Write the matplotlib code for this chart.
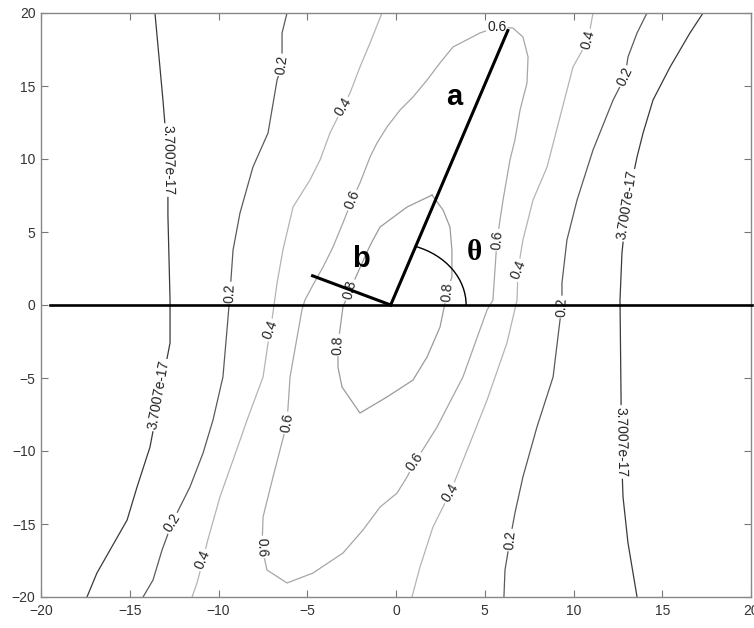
import numpy as np
import matplotlib
matplotlib.use("Agg")
import matplotlib.pyplot as plt
from matplotlib.patches import Arc

# --- Contour paths (x, y) for each level ---
zero_left = [(-13.58, 20), (-13.13, 14.04), (-12.85, 9.93), (-12.85, 6.16), (-12.73, 0.34),
             (-12.73, -2.60), (-13.30, -6.16), (-13.86, -9.73), (-14.59, -12.47),
             (-15.15, -14.73), (-16.11, -16.78), (-16.85, -18.36), (-17.41, -20)]
zero_right = [(17.30, 20), (16.56, 18.63), (15.44, 16.30), (14.48, 14.04), (13.92, 11.78),
              (13.58, 10.14), (13.01, 6.85), (12.73, 3.56), (12.62, 0.34), (12.68, -6.51),
              (12.68, -9.38), (12.79, -13.15), (13.07, -16.30), (13.58, -20)]
c02_left = [(-6.14, 20), (-6.42, 18.63), (-6.42, 16.44), (-6.70, 15.41), (-7.21, 11.78),
            (-8.06, 9.45), (-8.79, 6.30), (-9.18, 3.77), (-9.30, 1.71), (-9.35, 0.82),
            (-9.46, -0.82), (-9.75, -4.93), (-10.31, -7.88), (-10.87, -10.14),
            (-11.61, -12.47), (-12.62, -14.93), (-13.18, -16.78), (-13.69, -18.84), (-14.25, -20)]
c02_right = [(14.14, 20), (13.58, 18.63), (13.07, 16.99), (12.90, 15.62), (12.23, 14.04),
             (11.10, 10.62), (10.20, 7.19), (9.63, 4.45), (9.35, 1.51), (9.35, -0.14),
             (9.24, -1.03), (8.85, -4.93), (7.94, -8.36), (7.15, -11.78), (6.70, -14.25),
             (6.42, -16.10), (6.14, -18.15), (6.08, -20)]
c04_left = [(-0.79, 20), (-1.46, 17.95), (-2.03, 16.30), (-2.59, 14.52), (-2.99, 13.56),
            (-3.72, 11.78), (-4.28, 9.93), (-4.85, 8.56), (-5.80, 6.71), (-6.37, 3.77),
            (-6.70, 1.51), (-6.99, -1.03), (-7.10, -1.71), (-7.49, -4.93), (-8.39, -7.88),
            (-9.18, -10.62), (-9.92, -13.15), (-10.65, -16.30), (-10.87, -17.47),
            (-11.21, -19.04), (-11.49, -20)]
c04_right = [(11.10, 20), (10.82, 18.15), (9.97, 16.30), (9.24, 12.88), (8.51, 9.45),
             (7.72, 7.19), (7.15, 4.45), (6.87, 2.40), (6.82, 0.34), (6.25, -2.60),
             (5.13, -6.51), (4.17, -9.45), (3.04, -12.88), (2.08, -15.21), (1.35, -17.95),
             (0.90, -20)]
c06_loop = [(5.69, 19.04), (4.73, 18.63), (3.21, 17.67), (2.48, 16.58), (1.75, 15.41),
            (0.96, 14.25), (0.23, 13.36), (-0.51, 12.19), (-1.07, 11.10), (-1.46, 10.14),
            (-2.03, 8.36), (-2.48, 7.19), (-2.99, 5.62), (-3.55, 3.97), (-4.11, 2.60),
            (-4.68, 1.37), (-5.13, 0.34), (-5.30, -0.34), (-5.97, -4.93), (-6.14, -8.08),
            (-6.93, -11.78), (-7.49, -14.52), (-7.55, -16.58), (-7.27, -18.15),
            (-6.14, -19.04), (-4.68, -18.36), (-2.99, -16.99), (-1.86, -15.41),
            (-0.90, -13.84), (0.06, -12.88), (0.62, -11.78), (1.07, -10.75), (1.75, -9.45),
            (2.31, -8.36), (3.77, -4.93), (5.13, -0.34), (5.46, 0.34), (5.69, 4.45),
            (6.03, 7.19), (6.42, 9.93), (6.70, 11.30), (6.99, 13.36), (7.38, 15.21),
            (7.44, 16.99), (7.15, 18.36), (6.59, 18.97), (5.69, 19.04)]
c08_loop = [(2.03, 7.53), (2.65, 6.51), (3.04, 5.34), (3.15, 3.77), (3.15, 1.92),
            (2.87, 0.89), (2.76, 0.14), (2.48, -1.51), (1.75, -3.56), (0.96, -5.14),
            (-0.51, -6.30), (-2.03, -7.40), (-3.04, -5.62), (-3.27, -4.25), (-3.27, -2.74),
            (-2.99, -0.14), (-2.59, 1.03), (-1.58, 3.77), (-1.30, 4.45), (-0.90, 5.34),
            (0.62, 6.71), (2.03, 7.53)]

# level label text and where it sits on its path
label_text = ["3.7007e-17", "3.7007e-17", "3.7007e-17", "3.7007e-17",
              "0.2", "0.2", "0.2", "0.2", "0.2", "0.2",
              "0.4", "0.4", "0.4", "0.4", "0.4", "0.4",
              "0.6", "0.6", "0.6", "0.6", "0.6", "0.6",
              "0.8", "0.8", "0.8"]
label_x = [-12.85, -13.35, 13.01, 12.68,
           -6.42, -9.35, -12.62, 12.90, 9.35, 6.42,
           -2.99, -7.10, -10.87, 10.82, 6.87, 3.04,
           5.69, -2.48, -6.14, -7.55, 1.07, 5.69,
           -2.59, -3.27, 2.87]
label_y = [9.93, -6.16, 6.85, -9.38,
           16.44, 0.82, -14.93, 15.62, -0.14, -16.10,
           13.56, -1.71, -17.47, 18.15, 2.40, -12.88,
           19.04, 7.19, -8.08, -16.58, -10.75, 4.45,
           1.03, -2.74, 0.89]
label_rot = [-89, 80, 81, -89,
             82, 88, 58, 65, 88, 85,
             58, 69, 67, 75, 68, 58,
             0, 68, 80, -88, 55, 85,
             76, 88, 85]

# construction lines
origin = (-0.3, 0.0)
a_end = (6.3, 18.8)
b_end = (-4.7, 2.0)
arc_r = 4.25

paths = [zero_left, zero_right, c02_left, c02_right, c04_left, c04_right, c06_loop, c08_loop]
path_colors = ['#3a3a3a', '#3a3a3a', '#5a5a5a', '#5a5a5a', '#b4b4b4', '#b4b4b4', '#a6a6a6', '#9a9a9a']

fig = plt.figure(figsize=(7.54, 6.28), dpi=100)
ax = fig.add_axes([41 / 754, 31 / 628, 710 / 754, 584 / 628])

for pts, col in zip(paths, path_colors):
    p = np.array(pts)
    ax.plot(p[:, 0], p[:, 1], color=col, lw=0.9, zorder=2)

for txt, x, y, r in zip(label_text, label_x, label_y, label_rot):
    ax.text(x, y, txt, rotation=r, rotation_mode='anchor', ha='center', va='center',
            fontsize=10, family='Liberation Sans', color='#222222', zorder=3,
            bbox=dict(boxstyle='square,pad=0.12', fc='white', ec='none'))

# x axis reference line, a and b, angle arc
ax.plot([-19.5, 20.05], [0, 0], color='black', lw=1.9, zorder=4, clip_on=False)
ax.plot([origin[0], a_end[0]], [origin[1], a_end[1]], color='black', lw=2.2, zorder=4)
ax.plot([origin[0], b_end[0]], [origin[1], b_end[1]], color='black', lw=2.2, zorder=4)
ang = np.degrees(np.arctan2(a_end[1] - origin[1], a_end[0] - origin[0]))
ax.add_patch(Arc(origin, 2 * arc_r, 2 * arc_r, theta1=0, theta2=ang, color='black', lw=1.0, zorder=4))

ax.text(3.3, 14.25, 'a', fontsize=21, fontweight='bold', family='Liberation Sans',
        ha='center', va='center', zorder=5)
ax.text(-2.0, 3.15, 'b', fontsize=21, fontweight='bold', family='Liberation Sans',
        ha='center', va='center', zorder=5)
ax.text(4.4, 3.6, 'θ', fontsize=21, fontweight='bold', family='Liberation Serif',
        ha='center', va='center', zorder=5)

ax.set_xlim(-20, 20)
ax.set_ylim(-20, 20)
ax.set_xticks(np.arange(-20, 21, 5))
ax.set_yticks(np.arange(-20, 21, 5))
ax.tick_params(direction='in', length=5, width=0.8, color='#777777', top=True, right=True,
               labelsize=10, labelcolor='#333333')
ax.tick_params(axis='x', pad=5)
ax.tick_params(axis='y', pad=4)
for lab in ax.get_xticklabels() + ax.get_yticklabels():
    lab.set_family('Liberation Sans')
for s in ax.spines.values():
    s.set_color('#888888')
    s.set_linewidth(1.0)

fig.savefig('out.png', dpi=100, facecolor='white')
